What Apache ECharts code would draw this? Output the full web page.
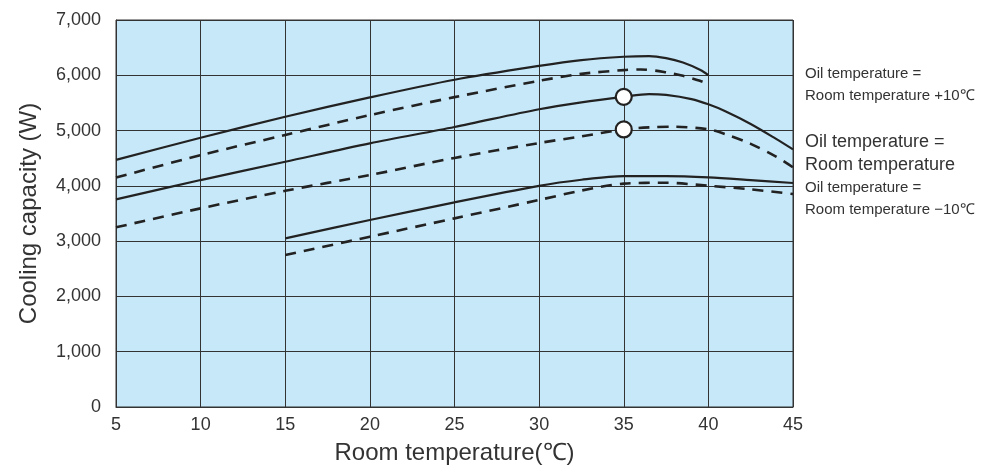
<!DOCTYPE html>
<html>
<head>
    <meta charset="UTF-8">
    <title>Cooling capacity</title>
    <script src="https://cdn.jsdelivr.net/npm/echarts@6/dist/echarts.min.js"></script>
</head>
<body style="margin:0">
<div id="main" style="width: 995px;height:473px;"></div>
<script type="text/javascript">
    // room temperature (°C) / cooling capacity (W)
    var plus10Solid = [[5, 4470], [10, 4870], [15, 5250], [20, 5600], [25, 5920], [30, 6170], [32.5, 6275], [35, 6335], [36.5, 6347], [37.5, 6310], [38.5, 6230], [39.5, 6100], [40, 6004]];
    var plus10Dashed = [[5, 4150], [10, 4555], [15, 4920], [20, 5280], [25, 5605], [30, 5900], [32.5, 6025], [35, 6094], [36, 6106], [37.5, 6055], [38.5, 5990], [39.5, 5900], [40, 5840]];
    var zeroSolid = [[5, 3755], [10, 4105], [15, 4436], [20, 4768], [25, 5065], [30, 5385], [32.5, 5510], [35, 5611], [36.5, 5660], [37.5, 5645], [39, 5570], [40, 5475], [41, 5350], [42.5, 5120], [44, 4850], [45, 4660]];
    var zeroDashed = [[5, 3250], [10, 3593], [15, 3911], [20, 4195], [25, 4505], [30, 4775], [32.5, 4895], [35, 5022], [36.5, 5058], [38, 5069], [40, 5022], [41, 4935], [42.5, 4760], [44, 4530], [45, 4335]];
    var minus10Solid = [[15, 3050], [20, 3382], [25, 3702], [30, 4000], [32.5, 4110], [35, 4177], [37.5, 4177], [40, 4154], [42.5, 4105], [45, 4052]];
    var minus10Dashed = [[15, 2749], [20, 3080], [25, 3412], [30, 3745], [32.5, 3915], [35, 4040], [37.5, 4056], [40, 4002], [42.5, 3937], [45, 3852]];
    var ratedPoints = [[35, 5610], [35, 5020]];

    var curveLabels = [
        ['Oil temperature =', 'Room temperature +10℃'],
        ['Oil temperature =', 'Room temperature'],
        ['Oil temperature =', 'Room temperature −10℃']
    ];

    var myChart = echarts.init(document.getElementById('main'));

    function curve(data, dashed) {
        return {
            type: 'line',
            data: data,
            smooth: 0.3,
            symbol: 'none',
            silent: true,
            lineStyle: {
                color: '#222',
                width: dashed ? 2.6 : 2.2,
                type: dashed ? [11, 8] : 'solid'
            },
            z: 3
        };
    }

    var font = 'Liberation Sans, Arial, sans-serif';

    var option = {
        animation: false,
        grid: {
            left: 116, right: 202, top: 20, bottom: 66,
            show: true,
            backgroundColor: '#c7e8f8',
            borderColor: '#333',
            borderWidth: 1
        },
        xAxis: {
            type: 'value',
            min: 5, max: 45, interval: 5,
            name: 'Room temperature(℃)',
            nameLocation: 'middle',
            nameGap: 34,
            nameTextStyle: {fontSize: 24, color: '#333', fontFamily: font},
            axisLine: {show: true, lineStyle: {color: '#333'}},
            axisTick: {show: false},
            axisLabel: {fontSize: 18, color: '#333', margin: 9, fontFamily: font},
            splitLine: {lineStyle: {color: '#333', width: 1}}
        },
        yAxis: {
            type: 'value',
            min: 0, max: 7000, interval: 1000,
            name: 'Cooling capacity (W)',
            nameLocation: 'middle',
            nameGap: 75,
            nameTextStyle: {fontSize: 24, color: '#333', fontFamily: font},
            axisLine: {show: true, lineStyle: {color: '#333'}},
            axisTick: {show: false},
            axisLabel: {
                fontSize: 18, color: '#333', margin: 15, fontFamily: font,
                formatter: function (v) { return v.toLocaleString('en-US'); }
            },
            splitLine: {lineStyle: {color: '#333', width: 1}}
        },
        graphic: [
            {type: 'text', left: 805, top: 63, style: {text: curveLabels[0].join('\n'), fontSize: 15, lineHeight: 22, fill: '#333', fontFamily: font}},
            {type: 'text', left: 805, top: 131, style: {text: curveLabels[1].join('\n'), fontSize: 18, lineHeight: 23, fill: '#333', fontFamily: font}},
            {type: 'text', left: 805, top: 177, style: {text: curveLabels[2].join('\n'), fontSize: 15, lineHeight: 22, fill: '#333', fontFamily: font}}
        ],
        series: [
            curve(plus10Solid, false),
            curve(plus10Dashed, true),
            curve(zeroSolid, false),
            curve(zeroDashed, true),
            curve(minus10Solid, false),
            curve(minus10Dashed, true),
            {
                type: 'scatter',
                data: ratedPoints,
                symbolSize: 16,
                silent: true,
                itemStyle: {color: '#fff', opacity: 1, borderColor: '#222', borderWidth: 2.2},
                z: 5
            }
        ]
    };

    myChart.setOption(option);
</script>
</body>
</html>
